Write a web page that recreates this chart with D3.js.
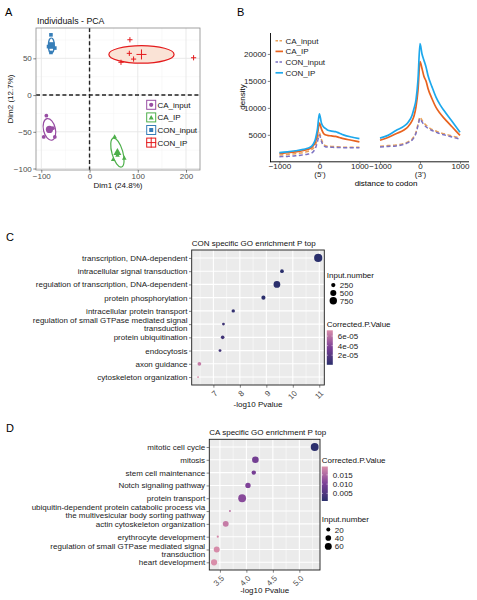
<!DOCTYPE html>
<html><head><meta charset="utf-8">
<script src="https://cdn.jsdelivr.net/npm/d3@7"></script>
<style>body{margin:0;background:#fff}</style>
</head><body><svg id="c" width="477" height="600"></svg>
<script>
// ---------------- DATA ----------------
// Panel A : PCA individuals
const pcaGroups = ["CA_input", "CA_IP", "CON_input", "CON_IP"];
const caInputPts = [[-89.5, -28], [-95, -57], [-72, -57], [-76, -45]];
const caIpPts = [[52, -57], [49, -88], [58, -82], [72, -86]];
const conInputPts = [[-80, 82], [-85, 66], [-72, 64], [-80, 58]];
const conIpPts = [[83.7, 75.3], [82.5, 56.8], [91.3, 49], [65.2, 44.6], [215.7, 50.8]];
const ellipseRx = [12.4, 11.3, 6.2, 67.6];   // data units (Dim1)
const ellipseRy = [15, 20.4, 10.2, 11.9];    // data units (Dim2)
const ellipseAngle = [-13, -16, 0, 0];
const pcaXTicks = [-100, 0, 100, 200];
const pcaYTicks = [-100, -50, 0, 50];

// Panel B : density around codons
const codonSeries = ["CA_input", "CA_IP", "CON_input", "CON_IP"];
const codonPos = [-1000, -800, -600, -400, -300, -200, -150, -100, -50, 0, 50, 100, 150, 200, 300, 400, 500, 600, 800, 1000];
const fiveCaInput  = [1250, 1350, 1500, 1700, 1900, 2200, 2500, 3100, 4200, 5400, 4200, 3300, 3000, 2900, 2850, 2800, 2750, 2700, 2700, 2700];
const fiveCaIp     = [1550, 1700, 1850, 2100, 2300, 2600, 3000, 3700, 5000, 7200, 6100, 5300, 5000, 4900, 4800, 4700, 4500, 4300, 4000, 3700];
const fiveConInput = [950, 1000, 1100, 1300, 1400, 1600, 1900, 2500, 3700, 5000, 3800, 3000, 2800, 2750, 2700, 2650, 2650, 2600, 2600, 2600];
const fiveConIp    = [1700, 1850, 2050, 2300, 2500, 2850, 3300, 4200, 6000, 8900, 7200, 6500, 6200, 5900, 5700, 5600, 5300, 5000, 4600, 4300];
const threeCaInput  = [2900, 3000, 3100, 3400, 3700, 4200, 4700, 5500, 7000, 8300, 7700, 7200, 6800, 6500, 6000, 5700, 5400, 5200, 4800, 4400];
const threeCaIp     = [4000, 4500, 5200, 5900, 6500, 7600, 8500, 10200, 13300, 18600, 17300, 15800, 15000, 13600, 11700, 10100, 9000, 8100, 6500, 4900];
const threeConInput = [2750, 2850, 2950, 3250, 3550, 4000, 4500, 5300, 6700, 8000, 7400, 6900, 6500, 6200, 5800, 5500, 5200, 5000, 4600, 4200];
const threeConIp    = [4400, 4900, 5800, 6600, 7300, 8600, 9900, 11500, 15200, 21900, 20000, 18800, 17600, 16000, 13900, 12000, 10600, 9500, 7500, 5500];
const densityTicks = [5000, 10000, 15000, 20000];
const codonTicks = [-1000, 0, 1000];

// Panel C : CON specific GO
const conTerms = ["transcription, DNA-dependent", "intracellular signal transduction", "regulation of transcription, DNA-dependent", "protein phosphorylation", "intracellular protein transport", "regulation of small GTPase mediated signal\ntransduction", "protein ubiquitination", "endocytosis", "axon guidance", "cytoskeleton organization"];
const conLogP = [10.96, 9.59, 9.40, 8.89, 7.75, 7.38, 7.35, 7.25, 6.47, 6.42];
const conCount = [920, 190, 620, 230, 160, 110, 180, 110, 190, 30];
const conPadj = [1e-9, 5e-8, 7e-8, 3e-7, 4e-6, 8e-6, 9e-6, 1e-5, 6.4e-5, 7.1e-5];
const conXTicks = [7, 8, 9, 10, 11];
const conSizeBreaks = [250, 500, 750];
const conColorBreaks = [6e-5, 4e-5, 2e-5];

// Panel D : CA specific GO
const caTerms = ["mitotic cell cycle", "mitosis", "stem cell maintenance", "Notch signaling pathway", "protein transport", "ubiquitin-dependent protein catabolic process via\nthe multivesicular body sorting pathway", "actin cytoskeleton organization", "erythrocyte development", "regulation of small GTPase mediated signal\ntransduction", "heart development"];
const caLogP = [5.29, 4.17, 4.14, 4.03, 3.92, 3.69, 3.61, 3.46, 3.44, 3.39];
const caCount = [78, 55, 24, 36, 76, 5, 44, 6, 44, 48];
const caPadj = [0.0011, 0.0092, 0.0096, 0.0106, 0.0115, 0.0165, 0.0175, 0.0190, 0.0192, 0.0195];
const caXTicks = [3.5, 4.0, 4.5, 5.0];
const caSizeBreaks = [20, 40, 60];
const caColorBreaks = [0.015, 0.010, 0.005];

// ---------------- STYLE ----------------
const sans = "'Liberation Sans', Arial, Helvetica, sans-serif";
const pcaColors = ["#984EA3", "#4DAF4A", "#377EB8", "#E41A1C"];
const pcaShapes = ["circle", "triangle", "square", "plus"];
const ellipseFill = ["#ffffff", "#ffffff", "#ffffff", "#FAE3D6"];
const codonColors = ["#E9A25A", "#E8631F", "#7C72C2", "#1DA8EC"];
const codonDash = ["4,2.5", null, "4,2.5", null];
const goColors = ["#2A2F6C", "#7B3F97", "#D98EAA"];

const svg = d3.select("#c").style("font-family", sans);
svg.append("rect").attr("width", 477).attr("height", 600).attr("fill", "#fff");

function styleAxis(g, size, color) {
  g.attr("font-family", null).attr("font-size", null);
  g.select(".domain").remove();
  g.selectAll(".tick line").attr("stroke", "#333").attr("stroke-width", 0.6);
  g.selectAll(".tick text").attr("fill", color).style("font-size", size + "px").style("font-family", sans);
}
function label(x, y, s, size, opts = {}) {
  const t = svg.append("text").attr("x", x).attr("y", y).text(s)
    .style("font-size", size + "px").attr("fill", opts.fill || "#000")
    .attr("text-anchor", opts.anchor || "start");
  if (opts.rotate) t.attr("transform", `rotate(${opts.rotate},${x},${y})`);
  return t;
}
function drawSym(g, type, x, y, s, color) {
  if (type === "circle") g.append("circle").attr("cx", x).attr("cy", y).attr("r", s).attr("fill", color);
  else if (type === "triangle") g.append("path").attr("d", `M${x},${y - s * 1.15}L${x - s},${y + s * 0.6}L${x + s},${y + s * 0.6}Z`).attr("fill", color);
  else if (type === "square") g.append("rect").attr("x", x - s).attr("y", y - s).attr("width", 2 * s).attr("height", 2 * s).attr("fill", color);
  else g.append("path").attr("d", `M${x - s},${y}H${x + s}M${x},${y - s}V${y + s}`).attr("stroke", color).attr("stroke-width", 1).attr("fill", "none");
}

// panel letters
label(5, 16, "A", 11); label(237, 16, "B", 11); label(6, 240.5, "C", 11); label(6, 431.5, "D", 11);

// ---------------- PANEL A ----------------
(function () {
  const L = 36, R = 200, T = 28, B = 170;
  const ax = d3.scaleLinear().domain([-111, 229]).range([L, R]);
  const ay = d3.scaleLinear().domain([-102, 91.3]).range([B, T]);
  const g = svg.append("g");
  g.append("rect").attr("x", L).attr("y", T).attr("width", R - L).attr("height", B - T).attr("fill", "#fff");
  const xMinor = d3.range(-150, 250, 50).filter(v => !pcaXTicks.includes(v) && v > ax.domain()[0] && v < ax.domain()[1]);
  const yMinor = d3.range(-125, 100, 25).filter(v => !pcaYTicks.includes(v) && v > ay.domain()[0] && v < ay.domain()[1]);
  xMinor.forEach(v => g.append("line").attr("x1", ax(v)).attr("x2", ax(v)).attr("y1", T).attr("y2", B).attr("stroke", "#F2F2F2").attr("stroke-width", 0.5));
  yMinor.forEach(v => g.append("line").attr("y1", ay(v)).attr("y2", ay(v)).attr("x1", L).attr("x2", R).attr("stroke", "#F2F2F2").attr("stroke-width", 0.5));
  pcaXTicks.forEach(v => g.append("line").attr("x1", ax(v)).attr("x2", ax(v)).attr("y1", T).attr("y2", B).attr("stroke", "#E6E6E6").attr("stroke-width", 0.9));
  pcaYTicks.forEach(v => g.append("line").attr("y1", ay(v)).attr("y2", ay(v)).attr("x1", L).attr("x2", R).attr("stroke", "#E6E6E6").attr("stroke-width", 0.9));
  // zero lines
  g.append("line").attr("x1", ax(0)).attr("x2", ax(0)).attr("y1", T).attr("y2", B).attr("stroke", "#222").attr("stroke-width", 1.4).attr("stroke-dasharray", "4,2.6");
  g.append("line").attr("y1", ay(0)).attr("y2", ay(0)).attr("x1", L).attr("x2", R).attr("stroke", "#222").attr("stroke-width", 1.4).attr("stroke-dasharray", "4,2.6");

  const groups = [caInputPts, caIpPts, conInputPts, conIpPts];
  const means = groups.map(p => [d3.mean(p, d => d[0]), d3.mean(p, d => d[1])]);
  groups.forEach((p, i) => {
    const [mx, my] = means[i];
    const cx = ax(mx), cy = ay(my);
    g.append("ellipse").attr("cx", cx).attr("cy", cy)
      .attr("rx", ax(mx + ellipseRx[i]) - cx).attr("ry", cy - ay(my + ellipseRy[i]))
      .attr("transform", `rotate(${ellipseAngle[i]},${cx},${cy})`)
      .attr("fill", ellipseFill[i]).attr("stroke", pcaColors[i]).attr("stroke-width", 1.2);
  });
  const smallS = { circle: 1.9, triangle: 2.3, square: 1.8, plus: 2.6 };
  const bigS = { circle: 3.6, triangle: 4, square: 3.3, plus: 5 };
  groups.forEach((p, i) => {
    p.forEach(d => drawSym(g, pcaShapes[i], ax(d[0]), ay(d[1]), smallS[pcaShapes[i]], pcaColors[i]));
    drawSym(g, pcaShapes[i], ax(means[i][0]), ay(means[i][1]), bigS[pcaShapes[i]], pcaColors[i]);
  });
  g.append("rect").attr("x", L).attr("y", T).attr("width", R - L).attr("height", B - T).attr("fill", "none").attr("stroke", "#8a8a8a").attr("stroke-width", 0.8);

  const xa = g.append("g").attr("transform", `translate(0,${B})`).call(d3.axisBottom(ax).tickValues(pcaXTicks).tickSize(2.7).tickPadding(0.6).tickFormat(d3.format("d")));
  styleAxis(xa, 8, "#4D4D4D");
  const ya = g.append("g").attr("transform", `translate(${L},0)`).call(d3.axisLeft(ay).tickValues(pcaYTicks).tickSize(2.7).tickPadding(1.5).tickFormat(d3.format("d")));
  styleAxis(ya, 8, "#4D4D4D");

  // legend
  const ly0 = 104.8, lstep = 12.6;
  pcaGroups.forEach((name, i) => {
    const cy = ly0 + i * lstep, kx = 151.2;
    g.append("rect").attr("x", kx - 4.5).attr("y", cy - 4.5).attr("width", 9).attr("height", 9).attr("fill", "#fff").attr("stroke", pcaColors[i]).attr("stroke-width", 1);
    const ks = { circle: 2.1, triangle: 2.5, square: 2, plus: 5 }[pcaShapes[i]];
    drawSym(g, pcaShapes[i], kx, cy + (pcaShapes[i] === "triangle" ? 0.5 : 0), ks, pcaColors[i]);
    g.append("text").attr("x", 157.5).attr("y", cy + 3).text(name).style("font-size", "8px").attr("fill", "#111");
  });
  label(37, 24, "Individuals - PCA", 8.8, { fill: "#111" });
  label(118, 188, "Dim1 (24.8%)", 8, { anchor: "middle", fill: "#111" });
  label(13, 99, "Dim2 (12.7%)", 8, { anchor: "middle", rotate: -90, fill: "#111" });
})();

// ---------------- PANEL B ----------------
(function () {
  const g = svg.append("g");
  const by = d3.scaleLinear().domain([0, 23700]).range([161.8, 34]);
  const bxL = d3.scaleLinear().domain([-1000, 1000]).range([279.4, 359.4]);
  const bxR = d3.scaleLinear().domain([-1000, 1000]).range([380, 460]);
  const five = [fiveCaInput, fiveCaIp, fiveConInput, fiveConIp];
  const three = [threeCaInput, threeCaIp, threeConInput, threeConIp];
  [[bxL, five], [bxR, three]].forEach(([sx, sets]) => {
    const line = d3.line().x((d, i) => sx(codonPos[i])).y(d => by(d)).curve(d3.curveMonotoneX);
    sets.forEach((vals, k) => {
      g.append("path").attr("d", line(vals)).attr("fill", "none").attr("stroke", codonColors[k])
        .attr("stroke-width", k % 2 ? 1.7 : 1.5).attr("stroke-dasharray", codonDash[k]);
    });
  });
  g.append("line").attr("x1", 270.5).attr("x2", 270.5).attr("y1", 33).attr("y2", 162.2).attr("stroke", "#000").attr("stroke-width", 0.9);
  g.append("line").attr("x1", 270.1).attr("x2", 469).attr("y1", 161.8).attr("y2", 161.8).attr("stroke", "#000").attr("stroke-width", 0.9);
  const ya = g.append("g").attr("transform", "translate(270.5,0)").call(d3.axisLeft(by).tickValues(densityTicks).tickSize(2.7).tickPadding(1.5).tickFormat(d3.format("d")));
  styleAxis(ya, 8, "#222");
  [[bxL, "(5')"], [bxR, "(3')"]].forEach(([sx, tag]) => {
    const xa = g.append("g").attr("transform", "translate(0,161.8)").call(d3.axisBottom(sx).tickValues(codonTicks).tickSize(2).tickPadding(0).tickFormat(d3.format("d")));
    styleAxis(xa, 8, "#222");
    xa.selectAll(".tick text").each(function (d) {
      if (d === 0) d3.select(this).append("tspan").attr("x", 0).attr("dy", "1.0em").text(tag);
    });
  });
  label(244.5, 97, "density", 8, { anchor: "middle", rotate: -90 });
  label(386, 185.5, "distance to codon", 8, { anchor: "middle" });
  // legend
  codonSeries.forEach((name, k) => {
    const cy = 40.7 + k * 10.7;
    g.append("line").attr("x1", 275.5).attr("x2", 283).attr("y1", cy).attr("y2", cy).attr("stroke", codonColors[k])
      .attr("stroke-width", k % 2 ? 1.7 : 1.5).attr("stroke-dasharray", codonDash[k] ? "2.5,1.5" : null);
    g.append("text").attr("x", 285.5).attr("y", cy + 2.9).text(name).style("font-size", "8px").attr("fill", "#222");
  });
})();

// ---------------- GO dot plots ----------------
function goPanel(o) {
  const g = svg.append("g");
  const { L, R, T, B } = o;
  const x = d3.scaleLinear().domain(o.xDomain).range([L, R]);
  const y = d3.scalePoint().domain(o.terms).range([T, B]).padding(0.6);
  const col = d3.scaleLinear().domain([o.cDomain[0], (o.cDomain[0] + o.cDomain[1]) / 2, o.cDomain[1]]).range(goColors).interpolate(d3.interpolateLab);
  const r = d3.scaleSqrt().domain([0, o.sMax]).range([0, o.rMax]);
  g.append("rect").attr("x", L).attr("y", T).attr("width", R - L).attr("height", B - T).attr("fill", "#EBEBEB");
  const step = o.xTicks[1] - o.xTicks[0];
  const minor = d3.range(o.xTicks[0] - step / 2, o.xDomain[1], step).filter(v => v > o.xDomain[0]);
  minor.forEach(v => g.append("line").attr("x1", x(v)).attr("x2", x(v)).attr("y1", T).attr("y2", B).attr("stroke", "#fff").attr("stroke-width", 0.5));
  o.xTicks.forEach(v => g.append("line").attr("x1", x(v)).attr("x2", x(v)).attr("y1", T).attr("y2", B).attr("stroke", "#fff").attr("stroke-width", 1.1));
  o.terms.forEach(t => g.append("line").attr("y1", y(t)).attr("y2", y(t)).attr("x1", L).attr("x2", R).attr("stroke", "#fff").attr("stroke-width", 1.1));
  o.terms.forEach((t, i) => g.append("circle").attr("cx", x(o.logP[i])).attr("cy", y(t)).attr("r", Math.max(0.9, r(o.count[i]))).attr("fill", col(o.padj[i])));
  g.append("rect").attr("x", L).attr("y", T).attr("width", R - L).attr("height", B - T).attr("fill", "none").attr("stroke", "#1a1a1a").attr("stroke-width", 0.9);

  const ya = g.append("g").attr("transform", `translate(${L},0)`).call(d3.axisLeft(y).tickSize(2.7).tickPadding(1.5));
  styleAxis(ya, 8, "#222");
  ya.selectAll(".tick text").each(function (d) {
    const lines = d.split("\n");
    if (lines.length > 1) {
      const t = d3.select(this); const tx = t.attr("x");
      t.text(null).attr("dy", null);
      lines.forEach((ln, i) => t.append("tspan").attr("x", tx).attr("dy", i === 0 ? "-0.18em" : "1em").text(ln));
    }
  });
  const xa = g.append("g").attr("transform", `translate(0,${B})`).call(d3.axisBottom(x).tickValues(o.xTicks).tickSize(2.7).tickFormat(o.fmt));
  styleAxis(xa, 8, "#4D4D4D");
  xa.selectAll(".tick text").attr("y", null).attr("dy", "0.75em").attr("text-anchor", "end").attr("transform", "translate(0,4.5) rotate(-45)");

  label(L, o.titleY, o.title, 8, { fill: "#111" });
  label((L + R) / 2, o.xlabY, "-log10 Pvalue", 8, { anchor: "middle", fill: "#111" });

  // legends
  const legSize = (yTop) => {
    g.append("text").attr("x", o.legX).attr("y", yTop).text("Input.number").style("font-size", "8px").attr("fill", "#111");
    o.sizeBreaks.forEach((v, i) => {
      const cy = yTop + 7.6 + i * o.sizeStep;
      g.append("circle").attr("cx", o.legX + 6.5).attr("cy", cy).attr("r", r(v)).attr("fill", "#000");
      g.append("text").attr("x", o.legX + 13).attr("y", cy + 2.9).text(v).style("font-size", "8px").attr("fill", "#222");
    });
  };
  const legColor = (yTop) => {
    g.append("text").attr("x", o.legX).attr("y", yTop).text("Corrected.P.Value").style("font-size", "8px").attr("fill", "#111");
    const id = "grad" + o.id;
    const grad = svg.append("defs").append("linearGradient").attr("id", id).attr("x1", 0).attr("y1", 1).attr("x2", 0).attr("y2", 0);
    d3.range(0, 1.0001, 0.1).forEach(f => grad.append("stop").attr("offset", f).attr("stop-color", col(o.cDomain[0] + f * (o.cDomain[1] - o.cDomain[0]))));
    const by0 = yTop + 3.5, bh = 34.5;
    const cb = d3.scaleLinear().domain(o.cDomain).range([by0 + bh, by0]);
    g.append("rect").attr("x", o.legX).attr("y", by0).attr("width", 6).attr("height", bh).attr("fill", `url(#${id})`);
    o.colorBreaks.forEach(v => {
      g.append("line").attr("x1", o.legX).attr("x2", o.legX + 1.3).attr("y1", cb(v)).attr("y2", cb(v)).attr("stroke", "#fff").attr("stroke-width", 0.5);
      g.append("line").attr("x1", o.legX + 4.7).attr("x2", o.legX + 6).attr("y1", cb(v)).attr("y2", cb(v)).attr("stroke", "#fff").attr("stroke-width", 0.5);
      g.append("text").attr("x", o.legX + 11).attr("y", cb(v) + 2.9).text(o.cFmt(v)).style("font-size", "8px").attr("fill", "#222");
    });
  };
  o.legendOrder === "size" ? (legSize(o.leg1Y), legColor(o.leg2Y)) : (legColor(o.leg1Y), legSize(o.leg2Y));
}

goPanel({
  id: "C", L: 191.7, R: 324.3, T: 250, B: 385, xDomain: [6.18, 11.19], xTicks: conXTicks, fmt: d3.format("d"),
  terms: conTerms, logP: conLogP, count: conCount, padj: conPadj,
  cDomain: [0, 7.2e-5], sMax: 920, rMax: 4.1, sizeBreaks: conSizeBreaks, sizeStep: 7.8, colorBreaks: conColorBreaks,
  cFmt: v => d3.format(".0e")(v).replace("e-5", "e-05").replace("−", "-"),
  title: "CON specific GO enrichment P top", titleY: 245.5, xlabY: 407,
  legX: 326.8, legendOrder: "size", leg1Y: 277.5, leg2Y: 326.8
});
goPanel({
  id: "D", L: 209.3, R: 320, T: 439.3, B: 570, xDomain: [3.30, 5.39], xTicks: caXTicks, fmt: d3.format(".1f"),
  terms: caTerms, logP: caLogP, count: caCount, padj: caPadj,
  cDomain: [0.0009, 0.0195], sMax: 80, rMax: 4.0, sizeBreaks: caSizeBreaks, sizeStep: 8.4, colorBreaks: caColorBreaks,
  cFmt: d3.format(".3f"),
  title: "CA specific GO enrichment P top", titleY: 434.5, xlabY: 592.5,
  legX: 321.8, legendOrder: "color", leg1Y: 463, leg2Y: 522
});
</script></body></html>
